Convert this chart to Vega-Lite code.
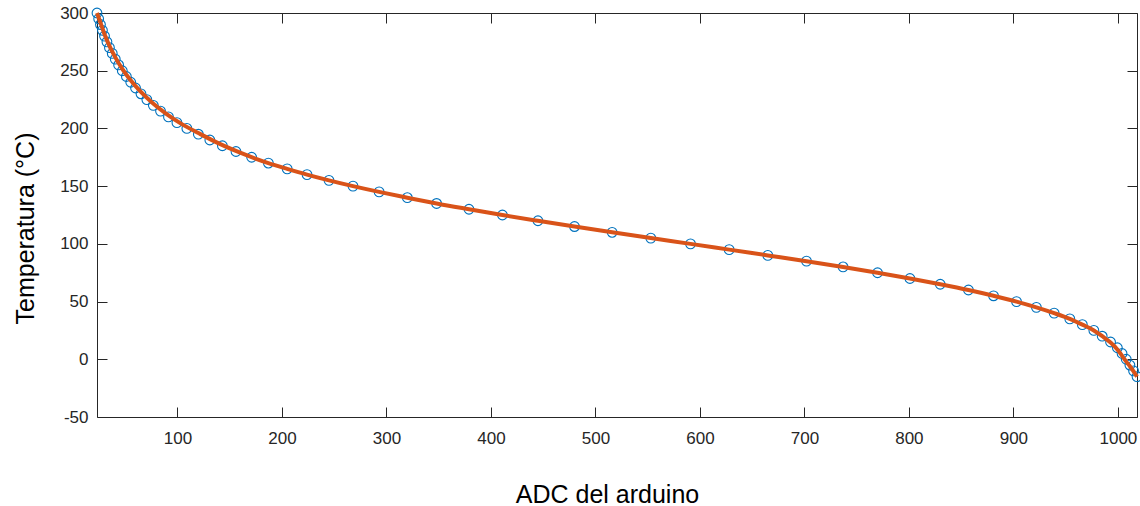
{
  "$schema": "https://vega.github.io/schema/vega-lite/v6.json",
  "width": 1040,
  "height": 404,
  "autosize": "none",
  "padding": {"left": 97, "top": 13, "right": 3, "bottom": 89},
  "background": "white",
  "config": {
    "view": {"stroke": "#262626", "strokeWidth": 1},
    "axis": {"grid": false, "labelOverlap": false, "labelFlush": false, "tickColor": "#262626", "tickWidth": 1, "domain": false}
  },
  "datasets": {
    "obs": [
      {"adc": 23, "temp": 300}, {"adc": 24.6, "temp": 295}, {"adc": 26.3, "temp": 290}, {"adc": 28.2, "temp": 285},
      {"adc": 30.2, "temp": 280}, {"adc": 32.5, "temp": 275}, {"adc": 34.9, "temp": 270}, {"adc": 37.6, "temp": 265},
      {"adc": 40.5, "temp": 260}, {"adc": 43.7, "temp": 255}, {"adc": 47.2, "temp": 250}, {"adc": 51.1, "temp": 245},
      {"adc": 55.3, "temp": 240}, {"adc": 59.9, "temp": 235}, {"adc": 65.1, "temp": 230}, {"adc": 70.7, "temp": 225},
      {"adc": 76.9, "temp": 220}, {"adc": 83.8, "temp": 215}, {"adc": 91.4, "temp": 210}, {"adc": 99.5, "temp": 205},
      {"adc": 109, "temp": 200}, {"adc": 120, "temp": 195}, {"adc": 131, "temp": 190}, {"adc": 143, "temp": 185},
      {"adc": 156, "temp": 180}, {"adc": 171, "temp": 175}, {"adc": 187, "temp": 170}, {"adc": 205, "temp": 165},
      {"adc": 224, "temp": 160}, {"adc": 245, "temp": 155}, {"adc": 268, "temp": 150}, {"adc": 293, "temp": 145},
      {"adc": 320, "temp": 140}, {"adc": 348, "temp": 135}, {"adc": 379, "temp": 130}, {"adc": 411, "temp": 125},
      {"adc": 445, "temp": 120}, {"adc": 480, "temp": 115}, {"adc": 516, "temp": 110}, {"adc": 553, "temp": 105},
      {"adc": 591, "temp": 100}, {"adc": 628, "temp": 95}, {"adc": 665, "temp": 90}, {"adc": 702, "temp": 85},
      {"adc": 737, "temp": 80}, {"adc": 770, "temp": 75}, {"adc": 801, "temp": 70}, {"adc": 830, "temp": 65},
      {"adc": 857, "temp": 60}, {"adc": 881, "temp": 55}, {"adc": 903, "temp": 50}, {"adc": 922, "temp": 45},
      {"adc": 939, "temp": 40}, {"adc": 954, "temp": 35}, {"adc": 966, "temp": 30}, {"adc": 977, "temp": 25},
      {"adc": 985, "temp": 20}, {"adc": 993, "temp": 15}, {"adc": 999.5, "temp": 10}, {"adc": 1004, "temp": 5},
      {"adc": 1008, "temp": 0}, {"adc": 1011.5, "temp": -5}, {"adc": 1015, "temp": -10}, {"adc": 1018.3, "temp": -15}
    ],
    "fit": [
      {"adc": 23, "temp": 300}, {"adc": 26, "temp": 292.4}, {"adc": 30, "temp": 282}, {"adc": 35, "temp": 271.3},
      {"adc": 40, "temp": 262.4}, {"adc": 47, "temp": 251.8}, {"adc": 55, "temp": 241.9}, {"adc": 65, "temp": 231.6},
      {"adc": 77, "temp": 221.4}, {"adc": 90, "temp": 212.2}, {"adc": 105, "temp": 203.3}, {"adc": 120, "temp": 196},
      {"adc": 140, "temp": 186.8}, {"adc": 160, "temp": 179}, {"adc": 187, "temp": 170}, {"adc": 205, "temp": 165},
      {"adc": 224, "temp": 160}, {"adc": 245, "temp": 155}, {"adc": 268, "temp": 150}, {"adc": 293, "temp": 145},
      {"adc": 320, "temp": 140}, {"adc": 348, "temp": 135}, {"adc": 379, "temp": 130}, {"adc": 411, "temp": 125},
      {"adc": 445, "temp": 120}, {"adc": 480, "temp": 115}, {"adc": 516, "temp": 110}, {"adc": 553, "temp": 105},
      {"adc": 591, "temp": 100}, {"adc": 628, "temp": 95}, {"adc": 665, "temp": 90}, {"adc": 702, "temp": 85},
      {"adc": 737, "temp": 80}, {"adc": 770, "temp": 75}, {"adc": 801, "temp": 70}, {"adc": 830, "temp": 65},
      {"adc": 857, "temp": 60}, {"adc": 881, "temp": 55}, {"adc": 903, "temp": 50}, {"adc": 922, "temp": 45},
      {"adc": 939, "temp": 40}, {"adc": 954, "temp": 35}, {"adc": 966, "temp": 30}, {"adc": 977, "temp": 25},
      {"adc": 985, "temp": 20}, {"adc": 993, "temp": 14.5}, {"adc": 999.5, "temp": 8.5}, {"adc": 1004, "temp": 3},
      {"adc": 1008, "temp": -2}, {"adc": 1011.5, "temp": -6}, {"adc": 1015, "temp": -10.5}, {"adc": 1018.3, "temp": -15}
    ]
  },
  "layer": [
    {
      "data": {"name": "obs"},
      "mark": {"type": "point", "shape": "circle", "filled": false, "color": "#0072BD", "size": 95, "strokeWidth": 1.1, "opacity": 1, "clip": false},
      "encoding": {
        "x": {
          "field": "adc", "type": "quantitative",
          "scale": {"domain": [23, 1018.3], "nice": false, "zero": false},
          "axis": {
            "orient": "bottom", "values": [100, 200, 300, 400, 500, 600, 700, 800, 900, 1000],
            "labelExpr": "'' + datum.value",
            "tickSize": -10, "labelPadding": 23, "labelFont": "Liberation Sans", "labelFontSize": 17, "labelColor": "#262626",
            "title": "ADC del arduino", "titleFont": "Liberation Sans", "titleFontSize": 25, "titleFontWeight": "normal", "titleColor": "#000000",
            "titleX": 510, "titleY": 85, "titleBaseline": "alphabetic", "titleAlign": "center"
          }
        },
        "y": {
          "field": "temp", "type": "quantitative",
          "scale": {"domain": [-50, 300], "nice": false, "zero": false},
          "axis": {
            "orient": "left", "values": [-50, 0, 50, 100, 150, 200, 250, 300],
            "labelExpr": "'' + datum.value",
            "tickSize": -10, "labelPadding": 19, "labelFont": "Liberation Sans", "labelFontSize": 17, "labelColor": "#262626",
            "title": "Temperatura (°C)", "titleFont": "Liberation Sans", "titleFontSize": 25, "titleFontWeight": "normal", "titleColor": "#000000",
            "titleX": -72, "titleY": 215, "titleBaseline": "middle", "titleAlign": "center", "titleAngle": -90
          }
        }
      }
    },
    {
      "data": {"name": "fit"},
      "mark": {"type": "line", "color": "#D95319", "strokeWidth": 4, "interpolate": "monotone", "clip": false},
      "encoding": {
        "x": {
          "field": "adc", "type": "quantitative",
          "scale": {"domain": [23, 1018.3], "nice": false, "zero": false},
          "axis": {"orient": "top", "values": [100, 200, 300, 400, 500, 600, 700, 800, 900, 1000], "tickSize": -10, "labels": false, "title": null}
        },
        "y": {
          "field": "temp", "type": "quantitative",
          "scale": {"domain": [-50, 300], "nice": false, "zero": false},
          "axis": {"orient": "right", "values": [-50, 0, 50, 100, 150, 200, 250, 300], "tickSize": -10, "labels": false, "title": null}
        }
      }
    }
  ],
  "resolve": {"axis": {"x": "independent", "y": "independent"}}
}
